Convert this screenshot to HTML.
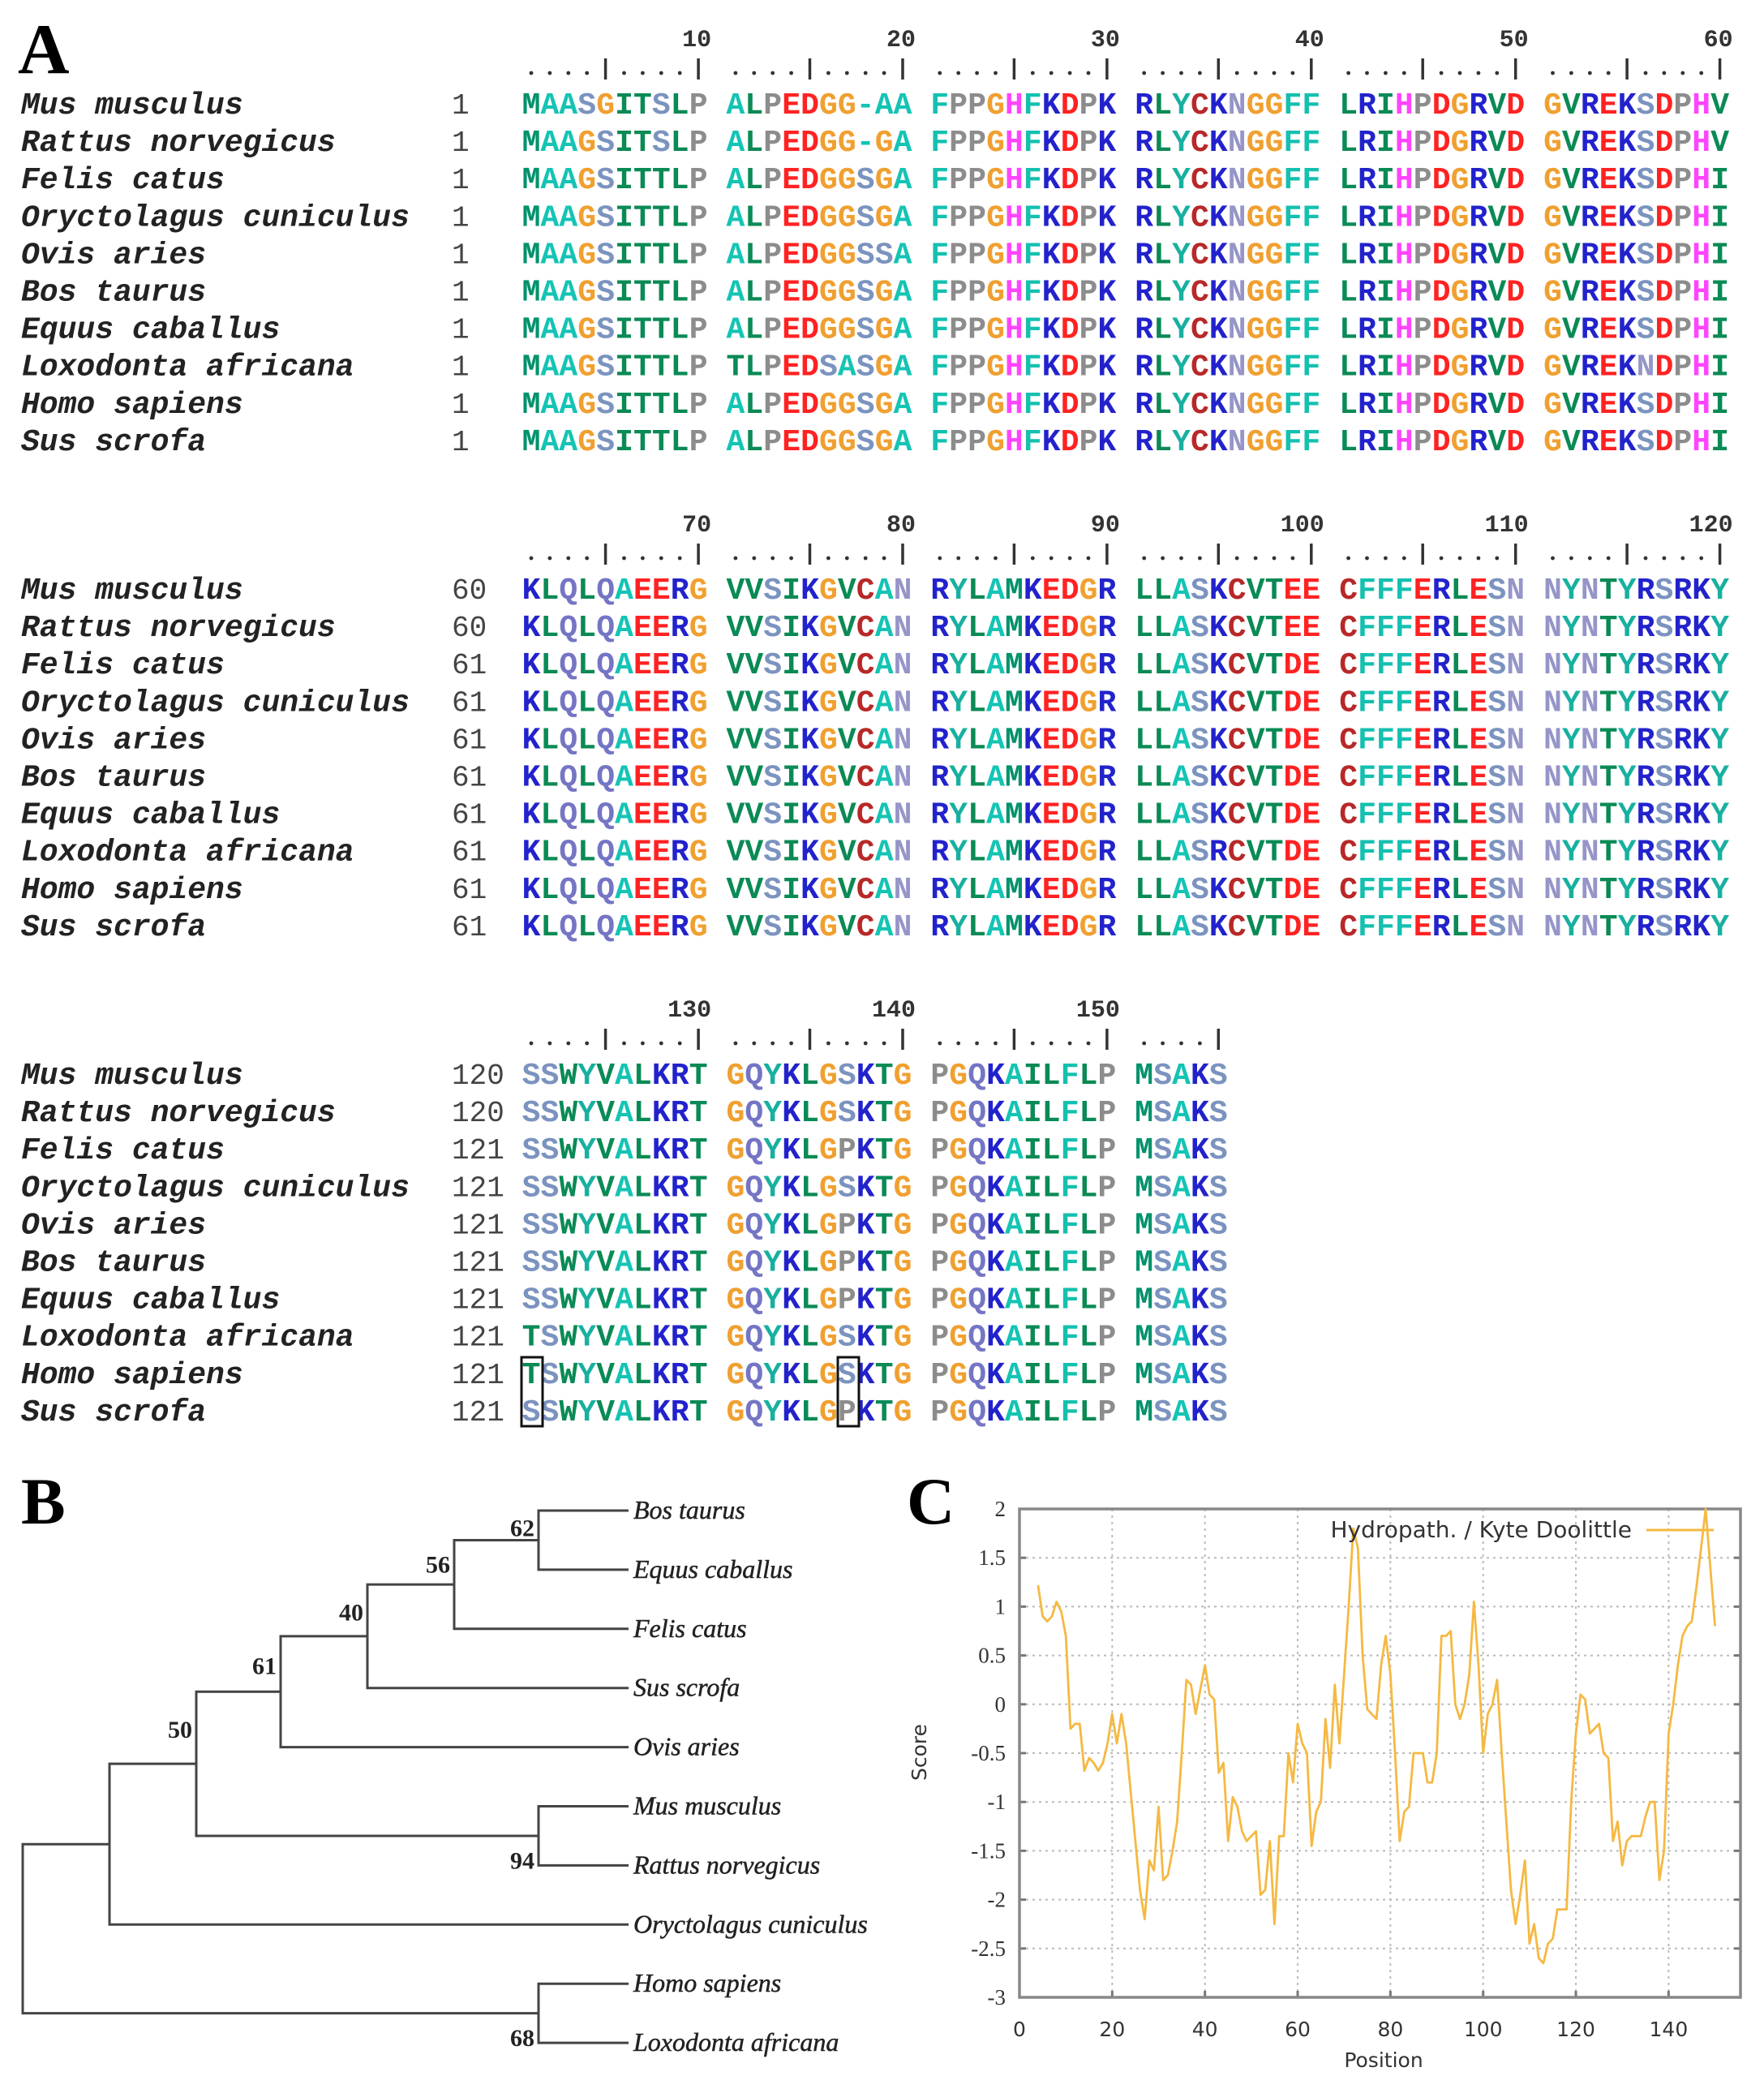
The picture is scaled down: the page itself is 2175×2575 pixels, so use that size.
<!DOCTYPE html>
<html><head><meta charset="utf-8"><style>
html,body{margin:0;padding:0;background:#fff;}
svg{display:block}
</style></head><body>
<svg id="fig" width="2175" height="2575" viewBox="0 0 2175 2575" xmlns="http://www.w3.org/2000/svg">
<text x="22" y="90" font-family="Liberation Serif" font-weight="bold" font-size="88">A</text>
<g id="align"></g>
<rect x="643" y="1673" width="26" height="85" fill="none" stroke="#111" stroke-width="3"/>
<rect x="1033" y="1673" width="26" height="85" fill="none" stroke="#111" stroke-width="3"/>
<text x="26" y="1878" font-family="Liberation Serif" font-weight="bold" font-size="82">B</text>
<g id="tree"></g>
<text x="1118" y="1878" font-family="Liberation Serif" font-weight="bold" font-size="82">C</text>
<g id="chart"></g>
</svg>
<script>
const NS='http://www.w3.org/2000/svg';
function mk(tag,attrs,parent){const e=document.createElementNS(NS,tag);for(const k in attrs)e.setAttribute(k,attrs[k]);parent.appendChild(e);return e;}

/* ---------- Panel A: alignment ---------- */
const species=['Mus musculus','Rattus norvegicus','Felis catus','Oryctolagus cuniculus','Ovis aries','Bos taurus','Equus caballus','Loxodonta africana','Homo sapiens','Sus scrofa'];
const block1=[
'MAASGITSLP ALPEDGG-AA FPPGHFKDPK RLYCKNGGFF LRIHPDGRVD GVREKSDPHV',
'MAAGSITSLP ALPEDGG-GA FPPGHFKDPK RLYCKNGGFF LRIHPDGRVD GVREKSDPHV',
'MAAGSITTLP ALPEDGGSGA FPPGHFKDPK RLYCKNGGFF LRIHPDGRVD GVREKSDPHI',
'MAAGSITTLP ALPEDGGSGA FPPGHFKDPK RLYCKNGGFF LRIHPDGRVD GVREKSDPHI',
'MAAGSITTLP ALPEDGGSSA FPPGHFKDPK RLYCKNGGFF LRIHPDGRVD GVREKSDPHI',
'MAAGSITTLP ALPEDGGSGA FPPGHFKDPK RLYCKNGGFF LRIHPDGRVD GVREKSDPHI',
'MAAGSITTLP ALPEDGGSGA FPPGHFKDPK RLYCKNGGFF LRIHPDGRVD GVREKSDPHI',
'MAAGSITTLP TLPEDSASGA FPPGHFKDPK RLYCKNGGFF LRIHPDGRVD GVREKNDPHI',
'MAAGSITTLP ALPEDGGSGA FPPGHFKDPK RLYCKNGGFF LRIHPDGRVD GVREKSDPHI',
'MAAGSITTLP ALPEDGGSGA FPPGHFKDPK RLYCKNGGFF LRIHPDGRVD GVREKSDPHI'];
const block2=[
'KLQLQAEERG VVSIKGVCAN RYLAMKEDGR LLASKCVTEE CFFFERLESN NYNTYRSRKY',
'KLQLQAEERG VVSIKGVCAN RYLAMKEDGR LLASKCVTEE CFFFERLESN NYNTYRSRKY',
'KLQLQAEERG VVSIKGVCAN RYLAMKEDGR LLASKCVTDE CFFFERLESN NYNTYRSRKY',
'KLQLQAEERG VVSIKGVCAN RYLAMKEDGR LLASKCVTDE CFFFERLESN NYNTYRSRKY',
'KLQLQAEERG VVSIKGVCAN RYLAMKEDGR LLASKCVTDE CFFFERLESN NYNTYRSRKY',
'KLQLQAEERG VVSIKGVCAN RYLAMKEDGR LLASKCVTDE CFFFERLESN NYNTYRSRKY',
'KLQLQAEERG VVSIKGVCAN RYLAMKEDGR LLASKCVTDE CFFFERLESN NYNTYRSRKY',
'KLQLQAEERG VVSIKGVCAN RYLAMKEDGR LLASRCVTDE CFFFERLESN NYNTYRSRKY',
'KLQLQAEERG VVSIKGVCAN RYLAMKEDGR LLASKCVTDE CFFFERLESN NYNTYRSRKY',
'KLQLQAEERG VVSIKGVCAN RYLAMKEDGR LLASKCVTDE CFFFERLESN NYNTYRSRKY'];
const block3=[
'SSWYVALKRT GQYKLGSKTG PGQKAILFLP MSAKS',
'SSWYVALKRT GQYKLGSKTG PGQKAILFLP MSAKS',
'SSWYVALKRT GQYKLGPKTG PGQKAILFLP MSAKS',
'SSWYVALKRT GQYKLGSKTG PGQKAILFLP MSAKS',
'SSWYVALKRT GQYKLGPKTG PGQKAILFLP MSAKS',
'SSWYVALKRT GQYKLGPKTG PGQKAILFLP MSAKS',
'SSWYVALKRT GQYKLGPKTG PGQKAILFLP MSAKS',
'TSWYVALKRT GQYKLGSKTG PGQKAILFLP MSAKS',
'TSWYVALKRT GQYKLGSKTG PGQKAILFLP MSAKS',
'SSWYVALKRT GQYKLGPKTG PGQKAILFLP MSAKS'];
const starts1=[1,1,1,1,1,1,1,1,1,1];
const starts2=[60,60,61,61,61,61,61,61,61,61];
const starts3=[120,120,121,121,121,121,121,121,121,121];
const rulerLabels=[[10,20,30,40,50,60],[70,80,90,100,110,120],[130,140,150]];
const rulerLen=[60,60,35];

const colors={M:'#00926b',A:'#14c4b4',G:'#f0a030',S:'#7b93bf',I:'#0a8a55',T:'#0a8a55',L:'#0a8a55',V:'#0a8a55',W:'#0a8a55',P:'#8c8c8c',F:'#14c0b0',H:'#ff44ff',K:'#2222cc',R:'#2222cc',D:'#ff2222',E:'#ff2222',C:'#b82828',N:'#9595c8',Y:'#18b0a0',Q:'#7575c5','-':'#14c4b4'};
const PITCH=22.9, COL1=655, ROW0=127, ROWSTEP=46.1, BLOCKSTEP=598;
function colX(c){return COL1+(c-1)*PITCH+Math.floor((c-1)/10)*PITCH;}
const alignG=document.getElementById('align');
const blocks=[block1,block2,block3], starts=[starts1,starts2,starts3];
blocks.forEach((blk,b)=>{
  const yOff=b*BLOCKSTEP;
  const bg=mk('g',{},alignG);
  
  
  for(let c=1;c<=rulerLen[b];c++){
    const x=colX(c);
    if(c%5===0){const l=mk('line',{x1:x,x2:x,y1:72+yOff,y2:98+yOff,stroke:'#333','stroke-width':3.5},bg);
      }
    else{const d=mk('circle',{cx:x,cy:90+yOff,r:2.4,fill:'#333'},bg);
      }
  }
  rulerLabels[b].forEach(n=>{
    const c=n-b*60;
    const t=mk('text',{x:colX(c)+16,y:57+yOff,'text-anchor':'end','font-family':'Liberation Mono','font-weight':'bold','font-size':30,fill:'#333'},bg);
    t.textContent=n;
    
    
  });
  blk.forEach((seq,i)=>{
    const y=ROW0+i*ROWSTEP+yOff+13;
    const nm=mk('text',{x:26,y:y,'font-family':'Liberation Mono','font-weight':'bold','font-style':'italic','font-size':38,fill:'#222'},bg);
    nm.textContent=species[i];
    
    
    const num=mk('text',{x:557,y:y,'font-family':'Liberation Mono','font-size':36,fill:'#444'},bg);
    num.textContent=starts[b][i];
    
    
    const st=mk('text',{y:y,'font-family':'Liberation Mono','font-weight':'bold','font-size':38,'text-anchor':'middle'},bg);
    
    
    let c=0;
    for(const ch of seq){
      if(ch===' ')continue;
      c++;
      const ts=mk('tspan',{x:colX(c).toFixed(1),fill:colors[ch]||'#333'},st);
      ts.textContent=ch;
    }
  });
});

/* ---------- Panel B: tree ---------- */
const leaves=['Bos taurus','Equus caballus','Felis catus','Sus scrofa','Ovis aries','Mus musculus','Rattus norvegicus','Oryctolagus cuniculus','Homo sapiens','Loxodonta africana'];
const LEAF_Y0=1862, LEAF_STEP=72.9, LEAF_X=775;
const treeG=document.getElementById('tree');
function ly(i){return LEAF_Y0+i*LEAF_STEP;}
const nd={};
function node(name,x,a,b,bs,pos){
  const ya=typeof a==='number'?ly(a):nd[a].y, yb=typeof b==='number'?ly(b):nd[b].y;
  const xa=typeof a==='number'?LEAF_X:nd[a].x, xb=typeof b==='number'?LEAF_X:nd[b].x;
  nd[name]={x:x,y:(ya+yb)/2};
  const p=mk('path',{d:`M${xa},${ya}H${x}V${yb}H${xb}`,fill:'none',stroke:'#444','stroke-width':3},treeG);
  
  
  if(bs){
    const ty=pos==='bottom'?yb+4:ya+0.24*(yb-ya)+14;
    const t=mk('text',{x:x-5,y:ty,'text-anchor':'end','font-family':'Liberation Serif','font-weight':'bold','font-size':30,fill:'#222'},treeG);
    t.textContent=bs;
    
    
  }
}
node('n62',664,0,1,'62');
node('n56',560,'n62',2,'56');
node('n40',453,'n56',3,'40');
node('n61',346,'n40',4,'61');
node('nMR',664,5,6,'94','bottom');
node('n50',242,'n61','nMR','50');
node('nO',135,'n50',7,'');
node('nHL',664,8,9,'68','bottom');
node('root',28,'nO','nHL','');
leaves.forEach((s,i)=>{
  const t=mk('text',{x:781,y:ly(i)+10,'font-family':'Liberation Serif','font-style':'italic','font-size':32,fill:'#222',stroke:'#222','stroke-width':0.5},treeG);
  t.textContent=s;
  
  
});

/* ---------- Panel C: hydropathy chart ---------- */
const positions=[4,5,6,7,8,9,10,11,12,13,14,15,16,17,18,19,20,21,22,23,24,25,26,27,28,29,30,31,32,33,34,35,36,37,38,39,40,41,42,43,44,45,46,47,48,49,50,51,52,53,54,55,56,57,58,59,60,61,62,63,64,65,66,67,68,69,70,71,72,73,74,75,76,77,78,79,80,81,82,83,84,85,86,87,88,89,90,91,92,93,94,95,96,97,98,99,100,101,102,103,104,105,106,107,108,109,110,111,112,113,114,115,116,117,118,119,120,121,122,123,124,125,126,127,128,129,130,131,132,133,134,135,136,137,138,139,140,141,142,143,144,145,146,147,148,149,150];
const scores=[1.22,0.9,0.85,0.9,1.05,0.95,0.7,-0.25,-0.2,-0.2,-0.68,-0.55,-0.6,-0.68,-0.6,-0.4,-0.1,-0.4,-0.1,-0.4,-0.9,-1.4,-1.9,-2.2,-1.6,-1.7,-1.05,-1.8,-1.75,-1.5,-1.2,-0.5,0.25,0.2,-0.1,0.15,0.4,0.1,0.05,-0.7,-0.6,-1.4,-0.95,-1.05,-1.3,-1.4,-1.35,-1.3,-1.95,-1.9,-1.4,-2.25,-1.35,-1.35,-0.5,-0.8,-0.2,-0.4,-0.5,-1.45,-1.1,-1.0,-0.15,-0.65,0.2,-0.4,0.3,1.0,1.8,1.6,0.5,-0.05,-0.1,-0.15,0.4,0.7,0.3,-0.5,-1.4,-1.1,-1.05,-0.5,-0.5,-0.5,-0.8,-0.8,-0.5,0.7,0.7,0.75,0.0,-0.15,0.0,0.3,1.05,0.4,-0.5,-0.1,0.0,0.25,-0.5,-1.2,-1.9,-2.25,-1.95,-1.6,-2.45,-2.25,-2.6,-2.65,-2.45,-2.4,-2.1,-2.1,-2.1,-1.0,-0.3,0.1,0.05,-0.3,-0.25,-0.2,-0.5,-0.55,-1.4,-1.2,-1.65,-1.4,-1.35,-1.35,-1.35,-1.15,-1.0,-1.0,-1.8,-1.5,-0.3,0.0,0.4,0.7,0.8,0.85,1.2,1.6,2.0,1.4,0.8];
const xTicks=[0,20,40,60,80,100,120,140];
const yTicks=[2,1.5,1,0.5,0,-0.5,-1,-1.5,-2,-2.5,-3];
const PL=1257,PR=2146,PT=1860,PB=2462,XMAX=155.5,YMIN=-3,YMAX=2;
function sx(v){return PL+(v/XMAX)*(PR-PL);}
function sy(v){return PT+(YMAX-v)/(YMAX-YMIN)*(PB-PT);}
const cg=document.getElementById('chart');
xTicks.forEach(v=>{
  if(v>0){const g=mk('line',{x1:sx(v),x2:sx(v),y1:PT,y2:PB,stroke:'#bbb','stroke-width':2,'stroke-dasharray':'3 5'},cg);
    }
  const tk=mk('line',{x1:sx(v),x2:sx(v),y1:PB,y2:PB-8,stroke:'#777','stroke-width':3},cg);
  
  const t=mk('text',{x:sx(v),y:2510,'text-anchor':'middle','font-family':'DejaVu Sans','font-size':25,fill:'#333'},cg);
  t.textContent=v;
  
  
});
yTicks.forEach(v=>{
  if(v>YMIN&&v<YMAX){const g=mk('line',{x1:PL,x2:PR,y1:sy(v),y2:sy(v),stroke:'#bbb','stroke-width':2,'stroke-dasharray':'3 5'},cg);
    }
  const tk=mk('line',{x1:PL,x2:PL+8,y1:sy(v),y2:sy(v),stroke:'#777','stroke-width':3},cg);
  
  const tk2=mk('line',{x1:PR,x2:PR-8,y1:sy(v),y2:sy(v),stroke:'#777','stroke-width':3},cg);
  
  const t=mk('text',{x:1240,y:sy(v)+9,'text-anchor':'end','font-family':'Liberation Serif','font-size':27,fill:'#333'},cg);
  t.textContent=v;
  
  
});
const frame=mk('rect',{x:PL,y:PT,width:PR-PL,height:PB-PT,fill:'none',stroke:'#888','stroke-width':3.5},cg);


const d=positions.map((p,i)=>(i?'L':'M')+sx(p).toFixed(1)+','+sy(scores[i]).toFixed(1)).join('');
const line=mk('path',{d:d,fill:'none',stroke:'#f5b942','stroke-width':2.8,'stroke-linejoin':'round'},cg);


const lt=mk('text',{x:2012,y:1895,'text-anchor':'end','font-family':'DejaVu Sans','font-size':28,fill:'#333'},cg);
lt.textContent='Hydropath. / Kyte  Doolittle';


const ll=mk('line',{x1:2030,x2:2113,y1:1886,y2:1886,stroke:'#f5b942','stroke-width':3},cg);


const yt=mk('text',{x:1142,y:2160,'text-anchor':'middle','font-family':'DejaVu Sans','font-size':25,fill:'#333',transform:'rotate(-90 1142 2160)'},cg);
yt.textContent='Score';


const xt=mk('text',{x:1706,y:2548,'text-anchor':'middle','font-family':'DejaVu Sans','font-size':25,fill:'#333'},cg);
xt.textContent='Position';


</script>
</body></html>
